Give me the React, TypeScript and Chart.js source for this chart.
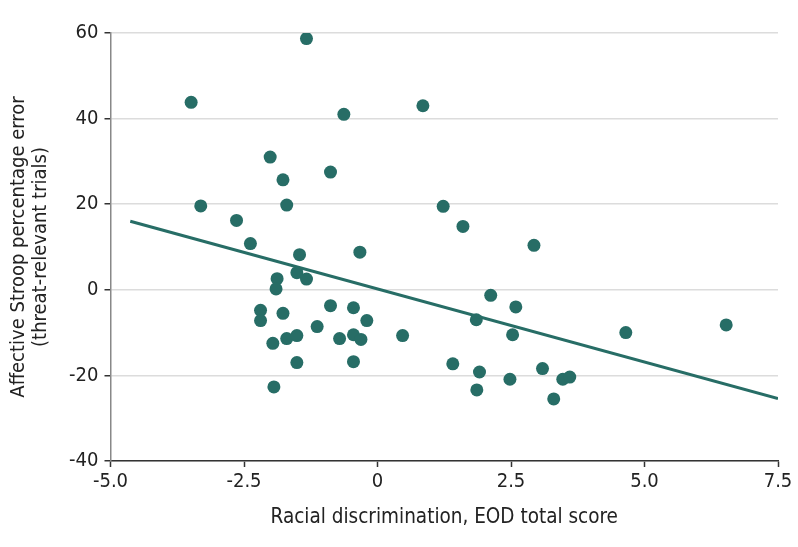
import React, { useEffect, useRef } from "react";
import { Chart, registerables } from "chart.js";

Chart.register(...registerables);

const pointX = [
  -1.33, -3.49, -0.63, -2.01, -0.88, -1.77, -3.31, -1.7, -2.64,
  -2.38, -1.46, -0.33, -1.88, -1.51, -1.33, -1.9, -2.19, -2.19, -1.77, -0.88, -0.45, -0.2,
  -1.13, -1.96, -1.7, -1.51, -0.71, -0.45, -0.31, -1.51, -0.45, -1.94,
  0.85, 1.23, 1.6, 2.93,
  0.47, 2.12, 2.59, 1.85, 2.53, 4.65, 6.53, 1.41, 1.91, 1.86, 2.48, 3.09, 3.47, 3.6, 3.3,
];
const pointY = [
  58.7, 43.8, 41.0, 31.0, 27.5, 25.7, 19.6, 19.8, 16.2,
  10.8, 8.2, 8.8, 2.6, 4.0, 2.5, 0.2, -4.8, -7.2, -5.5, -3.7, -4.2, -7.2,
  -8.6, -12.5, -11.4, -10.7, -11.4, -10.5, -11.6, -17.0, -16.8, -22.7,
  43.0, 19.5, 14.8, 10.4,
  -10.7, -1.3, -4.0, -7.0, -10.5, -10.0, -8.2, -17.3, -19.2, -23.4, -20.9, -18.4, -20.9, -20.4, -25.5,
];
const trendX = [-4.63, 7.5];
const trendY = [16.0, -25.4];
const xTicks = [-5, -2.5, 0, 2.5, 5, 7.5];
const xTickLabels = ["-5.0", "-2.5", "0", "2.5", "5.0", "7.5"];
const yTicks = [-40, -20, 0, 20, 40, 60];

const xTitle = "Racial discrimination, EOD total score";
const yTitle = ["Affective Stroop percentage error", "(threat-relevant trials)"];

const TEAL = "#276d66";
const FONT = "'Liberation Sans Narrow', 'DejaVu Sans Condensed', 'Roboto', sans-serif";

export default function App() {
  const ref = useRef<HTMLCanvasElement | null>(null);
  useEffect(() => {
    document.body.style.margin = "0";
    const ctx = ref.current!;
    const chart = new Chart(ctx, {
      type: "scatter",
      data: {
        datasets: [
          {
            type: "line",
            data: trendX.map((x, i) => ({ x, y: trendY[i] })),
            borderColor: TEAL,
            borderWidth: 3,
            pointRadius: 0,
            fill: false,
          } as any,
          {
            data: pointX.map((x, i) => ({ x, y: pointY[i] })),
            backgroundColor: TEAL,
            borderColor: TEAL,
            pointRadius: 6.5,
            borderWidth: 0,
          },
        ],
      },
      options: {
        responsive: false,
        animation: false,
        layout: { padding: { top: 33, right: 20, bottom: 0, left: 0 } },
        plugins: { legend: { display: false }, tooltip: { enabled: false } },
        scales: {
          x: {
            type: "linear",
            min: -5,
            max: 7.5,
            afterBuildTicks: (s: any) => {
              s.ticks = xTicks.map((v) => ({ value: v }));
            },
            afterFit: (s: any) => {
              s.height = 86;
            },
            ticks: {
              color: "#222",
              font: { family: FONT, size: 20 },
              padding: 3,
              callback: (v: any) => xTickLabels[xTicks.indexOf(Number(v))] ?? "",
              maxRotation: 0,
            },
            grid: {
              drawOnChartArea: false,
              drawTicks: true,
              tickLength: 6,
              tickColor: "#333",
              tickWidth: 1.5,
            },
            border: { color: "#333", width: 1.5 },
            title: {
              display: true,
              text: xTitle,
              color: "#222",
              font: { family: FONT, size: 20.5 },
              padding: { top: 4, bottom: 17 },
            },
          },
          y: {
            type: "linear",
            min: -40,
            max: 60,
            afterBuildTicks: (s: any) => {
              s.ticks = yTicks.map((v) => ({ value: v }));
            },
            afterFit: (s: any) => {
              s.width = 110.5;
            },
            ticks: {
              color: "#222",
              font: { family: FONT, size: 20 },
              padding: 6,
            },
            grid: {
              color: "#dcdcdc",
              lineWidth: 1.5,
              drawTicks: true,
              tickLength: 6,
              tickColor: "#333",
              tickWidth: 1.5,
            },
            border: { color: "#888", width: 1.5 },
            title: {
              display: true,
              text: yTitle,
              color: "#222",
              font: { family: FONT, size: 20, lineHeight: 1.1 },
              padding: { top: 8, bottom: 6 },
            },
          },
        },
      },
    });
    return () => chart.destroy();
  }, []);
  return (
    <div style={{ position: "fixed", left: 0, top: 0, width: 798, height: 547, background: "#fff" }}>
      <canvas ref={ref} width={798} height={547} />
    </div>
  );
}
